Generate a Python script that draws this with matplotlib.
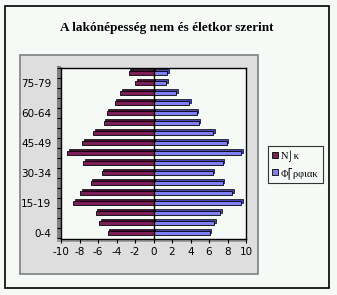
import matplotlib
matplotlib.use("Agg")
import matplotlib.pyplot as plt
from matplotlib.patches import Rectangle
from matplotlib.lines import Line2D
import numpy as np

# ---- data ----
age_groups = ["0-4", "5-9", "10-14", "15-19", "20-24", "25-29", "30-34", "35-39",
              "40-44", "45-49", "50-54", "55-59", "60-64", "65-69", "70-74",
              "75-79", "80-"]
women = [4.97, 5.84, 6.27, 8.65, 7.90, 6.81, 5.62, 7.57, 9.30, 7.68, 6.49, 5.40,
         5.08, 4.20, 3.57, 1.95, 2.70]
men = [6.08, 6.58, 7.23, 9.46, 8.50, 7.48, 6.40, 7.48, 9.46, 7.90, 6.47, 4.90,
       4.68, 3.88, 2.45, 1.37, 1.47]
shown_labels = ["0-4", "15-19", "30-34", "45-49", "60-64", "75-79"]
x_ticks = [-10, -8, -6, -4, -2, 0, 2, 4, 6, 8, 10]
title = "A lakónépesség nem és életkor szerint"
legend_labels = ["N\u2321\u03ba", "\u03a6\u23a1\u03c1\u03c6\u03b9\u03b1\u03ba"]

W, H = 337, 295
BG = "#F5FAF7"
C_W = "#7E1E58"
C_W_D = "#4A0E33"
C_M = "#8080F4"
C_M_D = "#4848B0"

fig = plt.figure(figsize=(W / 100, H / 100), dpi=100, facecolor=BG)


def fx(x):
    return x / W


def fy(y):
    return 1 - y / H


def rect(x0, y0, x1, y1, **kw):
    fig.patches.append(Rectangle((fx(x0), fy(y1)), fx(x1) - fx(x0), fy(y0) - fy(y1),
                                 transform=fig.transFigure, **kw))


# outer border and grey chart area
rect(5, 6, 329, 288, facecolor="none", edgecolor="black", lw=1.2, zorder=-2)
rect(20, 55, 258, 274, facecolor="#DEDEDE", edgecolor="#808080", lw=1.2, zorder=-2)
# 3D side wall and floor of the plot area
rect(57, 66, 61, 241, facecolor="#808080", edgecolor="none", zorder=-1)
rect(57, 238, 246, 242, facecolor="#A0A0A0", edgecolor="none", zorder=-1)

fig.text(fx(167), fy(27.5), title, ha="center", va="center", fontsize=9.5,
         fontweight="bold", family="Liberation Serif")

ax = fig.add_axes([fx(61), fy(239), fx(246) - fx(61), fy(68) - fy(239)])
ax.set_zorder(2)
ax.set_facecolor(BG)
y = np.arange(len(age_groups))
h = 0.45
dx, dy = 0.18, 0.18
# 3D-ish depth faces
ax.barh(y + dy, [-v for v in women], left=dx, height=h, color=C_W_D,
        edgecolor="black", lw=0.5, zorder=2)
ax.barh(y + dy, men, left=dx, height=h, color=C_M_D, edgecolor="black", lw=0.5,
        zorder=2)
ax.barh(y, [-v for v in women], height=h, color=C_W, edgecolor="black", lw=0.6,
        zorder=3)
ax.barh(y, men, height=h, color=C_M, edgecolor="black", lw=0.6, zorder=3)

ax.set_xlim(-10, 10)
ax.set_ylim(-0.6, len(age_groups) - 0.5)
ax.set_xticks(x_ticks)
ax.set_xticklabels([str(t) for t in x_ticks], fontsize=7.5)
ax.set_yticks([age_groups.index(l) for l in shown_labels])
ax.set_yticklabels(shown_labels, fontsize=7.5)
ax.set_yticks(np.arange(len(age_groups) + 1) - 0.5, minor=True)
ax.tick_params(axis="y", which="major", length=0, pad=7)
ax.tick_params(axis="y", which="minor", length=3, width=0.8, direction="out")
ax.tick_params(axis="x", length=3, width=0.8, pad=3)
for s in ax.spines.values():
    s.set_linewidth(1.0)
ax.axvline(0, color="black", lw=1.0, zorder=4)

handles = [Line2D([], [], marker="s", ls="none", markersize=5, markerfacecolor=C_W,
                  markeredgecolor="black", markeredgewidth=0.6),
           Line2D([], [], marker="s", ls="none", markersize=5, markerfacecolor=C_M,
                  markeredgecolor="black", markeredgewidth=0.6)]
leg = fig.legend(handles, legend_labels, loc="center",
                 bbox_to_anchor=(fx(295.5), fy(164.5)),
                 prop={"family": ["Liberation Serif", "DejaVu Serif"], "size": 7.5},
                 frameon=True, fancybox=False, edgecolor="black",
                 handlelength=0.6, handletextpad=0.25, borderpad=0.4,
                 labelspacing=0.5, borderaxespad=0)
leg.get_frame().set_facecolor(BG)
leg.get_frame().set_linewidth(0.8)

fig.savefig("out.png", dpi=100, facecolor=BG)
